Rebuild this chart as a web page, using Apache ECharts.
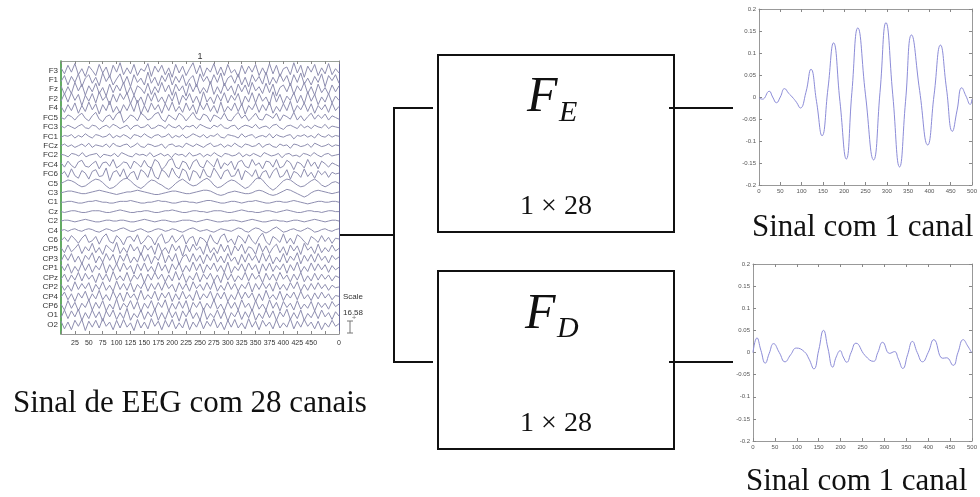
<!DOCTYPE html>
<html>
<head>
<meta charset="utf-8">
<script src="https://cdn.jsdelivr.net/npm/echarts@6/dist/echarts.min.js"></script>
<style>
  html, body { margin: 0; padding: 0; background: #fff; }
  #chart { width: 980px; height: 497px; }
</style>
</head>
<body>
<div id="chart"></div>
<script>
// ---- EEG montage (28 channels, top to bottom) ----
const channelNames = ['F3','F1','Fz','F2','F4','FC5','FC3','FC1','FCz','FC2','FC4','FC6','C5','C3','C1','Cz','C2','C4','C6','CP5','CP3','CP1','CPz','CP2','CP4','CP6','O1','O2'];
const channelStep = 11;   // µV between neighbouring channel baselines
const timeTicks = [0,25,50,75,100,125,150,175,200,225,250,275,300,325,350,375,400,425,450,475,500];
const timeTickLabels = ['','25','50','75','100','125','150','175','200','225','250','275','300','325','350','375','400','425','450','','0'];

// EEG samples per channel, µV
const eegF3  = [3,-4,6,-2,8,-5,2,-7,5,0,-6,7,-3,4,-8,6,-2,9,-5,3,-4,7,-6,2,-1,8,-7,5,-2,6,-5,3,-8,7,-3,5,-6,2,9,-4,6,-7,3,-2,8,-5,4,-6,7,-3,1,-8,6,-4,5,-2,7,-6,3,-5,8,-4,6,-7,2,4,-5,9,-3,6,-8,5,-2,7,-6,3,-4,8,-5,2,-3];
const eegF1  = [-2,5,-6,4,-3,7,-8,2,6,-4,3,-7,8,-2,5,-6,1,7,-5,4,-8,6,-3,2,-6,9,-4,3,-7,5,-2,8,-6,4,-3,6,-7,1,5,-8,7,-2,4,-5,6,-3,8,-7,2,5,-4,7,-6,3,-8,6,-2,4,-5,9,-6,3,-4,7,-2,5,-7,6,-3,8,-5,2,-6,4,-3,7,-8,5,-1,6,-4];
const eegFz  = [4,-6,3,-5,8,-2,6,-7,4,-3,7,-5,2,-8,6,-4,5,-2,8,-6,3,-7,4,1,-5,7,-6,3,-4,8,-3,5,-7,6,-2,4,-8,7,-3,6,-5,2,-4,9,-6,3,-5,7,-2,4,-7,6,-3,5,-6,8,-2,3,-5,7,-4,6,-8,2,5,-3,7,-6,4,-2,8,-5,3,-7,6,-4,2,-6,5,-3,4];
const eegF2  = [-3,6,-4,7,-2,5,-8,4,-3,6,-5,8,-2,3,-7,5,-4,6,-1,7,-6,4,-5,2,-8,6,-3,7,-4,2,-6,5,-3,8,-7,4,-2,6,-5,3,-7,8,-4,2,-6,5,-3,7,-5,4,-2,6,-8,3,-4,7,-5,6,-3,2,-7,8,-4,5,-6,3,-2,7,-5,4,-6,8,-3,5,-7,2,-4,6,-5,3,-2];
const eegF4  = [2,-5,4,-3,6,-6,3,-4,7,-2,5,-7,4,-3,8,-5,2,-6,4,-3,6,-4,9,-7,3,-5,6,-2,4,-6,5,-3,7,-4,2,-5,6,-3,4,-7,5,-2,6,-4,3,-6,7,-5,2,-3,6,-4,5,-7,3,-2,6,-5,4,-3,7,-6,2,-4,5,-3,8,-5,3,-2,6,-4,5,-6,3,-2,4,-5,6,-3,2];
const eegFC5 = [0,-2,3,1,-3,2,5,-1,-4,2,6,-2,-5,1,3,-3,4,7,-6,-2,3,1,-4,5,2,-3,-1,4,6,-2,-5,3,0,-3,5,2,-4,1,6,-1,-3,4,2,-5,3,1,-2,5,-3,-4,2,6,-1,3,-4,0,5,-2,-3,4,2,-1,5,-4,3,1,-2,6,-3,2,-4,1,5,-2,3,-1,4,-3,2,0,-2];
const eegFC3 = [1,-1,2,0,-2,1,3,-1,-2,2,1,-3,0,2,-1,3,1,-2,0,2,-3,1,2,-1,0,3,-2,-1,2,1,-2,3,0,-1,2,-3,1,0,2,-2,3,1,-1,-2,2,0,3,-1,-2,1,2,-3,0,2,1,-1,3,-2,0,1,-2,2,3,-1,-3,1,2,0,-2,3,-1,1,-2,2,0,-1,3,-2,1,0,-1];
const eegFC1 = [-1,1,0,2,-2,1,-1,3,0,-2,2,1,-1,0,3,-2,1,-1,2,0,-3,2,1,-1,3,0,-2,1,2,-1,0,3,-2,1,-1,2,-2,0,3,1,-1,2,-2,1,0,3,-1,-2,2,1,0,-2,3,-1,1,2,-2,0,1,-1,3,-2,2,0,-1,1,2,-3,1,0,2,-1,1,-2,3,0,-1,2,-1,1,0];
const eegFCz = [0,2,-1,1,-2,0,2,-1,3,-2,1,0,-1,2,-2,3,0,-1,1,2,-2,0,3,-1,-2,2,1,-1,0,2,-3,1,2,-1,0,-2,3,1,-1,2,0,-2,1,3,-1,0,2,-2,1,-1,3,0,-2,2,1,-1,0,3,-2,1,2,-1,-2,2,0,1,-3,2,1,-1,0,2,-2,3,1,-1,0,2,-1,1,0];
const eegFC2 = [1,0,-2,2,1,-1,3,-2,0,1,2,-3,1,0,-1,2,-2,3,1,-1,-2,2,0,1,-1,3,-2,0,2,-1,1,-3,2,0,1,-2,3,-1,0,2,-2,1,-1,3,0,-2,2,1,-1,0,3,-2,1,-1,2,0,-2,3,1,-1,0,2,-3,1,2,-1,0,-2,2,1,-1,3,0,-2,1,2,-1,0,1];
const eegFC4 = [2,-3,4,-1,-4,3,5,-2,-3,1,4,-5,2,3,-2,6,-4,-1,3,2,-5,4,1,-3,5,-2,-4,6,3,-6,-2,5,7,-3,-5,4,2,-6,3,6,-2,-4,5,1,-3,7,-5,2,-1,4,-6,3,5,-2,-4,6,-1,2,-5,4,3,-3,6,-4,-2,5,2,-6,3,1,-4,6,-2,3,-5,4,1,-3,2,0,-2];
const eegFC6 = [-1,3,-4,6,-2,-5,4,1,-6,3,5,-3,-2,7,-8,2,4,-3,6,-5,1,3,-7,5,2,-4,8,-3,-6,5,2,-4,7,-1,-5,6,3,-8,4,2,-5,6,-2,-4,7,1,-6,3,5,-3,-2,6,-7,4,1,-3,5,-6,2,4,-5,3,7,-4,-2,5,-6,3,1,-4,6,-3,2,-5,4,-1,3,-4,2,0,1];
const eegC5  = [0,2,4,3,1,-2,-4,-3,0,3,5,4,1,-3,-6,-5,-2,2,5,6,3,-1,-4,-6,-3,1,4,3,0,-2,-5,-7,-4,0,3,5,2,-1,-3,-2,1,4,6,3,-2,-5,-4,-1,2,4,3,0,-3,-6,-4,0,5,7,4,-1,-5,-8,-5,-1,3,5,4,1,-2,-4,-3,0,3,5,2,-2,-4,-2,1,2,0];
const eegC3  = [0,1,2,2,1,0,-1,-1,0,1,2,3,2,1,0,-1,-2,-1,0,1,1,2,3,2,1,0,-1,-2,-2,-1,0,1,2,2,1,0,-1,-1,0,1,2,3,3,2,0,-2,-3,-2,0,1,2,1,0,-1,-1,0,2,3,2,0,-2,-3,-2,0,2,4,3,1,-1,-3,-5,-3,0,2,3,2,1,0,-1,0,1];
const eegC1  = [0,0,1,1,0,-1,-1,0,1,1,2,1,0,0,-1,-1,0,1,1,1,2,1,0,-1,-1,0,0,1,2,1,1,0,-1,-1,0,1,1,0,0,-1,0,1,2,2,1,0,-1,-1,0,1,1,0,-1,0,1,1,2,1,0,-1,-1,0,1,1,0,0,1,2,1,0,-1,-2,-1,0,1,1,0,0,1,1,0];
const eegCz  = [0,-1,0,1,1,0,-1,-1,0,1,1,1,0,-1,-1,0,1,2,1,0,-1,-1,0,0,1,1,0,-1,-1,0,1,1,2,1,0,-1,-1,0,1,1,0,0,-1,0,1,1,1,0,-1,-1,0,1,2,1,0,0,-1,-1,0,1,1,0,-1,0,1,2,1,0,-1,-1,0,1,1,0,0,-1,0,1,1,0,0];
const eegC2  = [0,1,1,0,-1,0,1,2,1,0,-1,-1,0,1,1,0,0,1,1,0,-1,-1,0,1,2,1,0,-1,0,1,1,0,-1,-1,0,1,1,1,0,-1,0,1,2,1,0,-1,-1,0,0,1,1,0,-1,0,1,2,1,0,-1,-1,0,1,1,0,0,-1,0,1,1,0,-1,0,1,2,1,0,-1,0,1,1,0];
const eegC4  = [0,1,-1,1,2,0,-1,1,2,1,-1,-2,0,2,1,-1,0,2,3,1,-1,-1,1,2,0,-2,-1,1,2,1,-1,0,2,1,-1,-2,0,2,3,1,-1,0,1,-1,-2,0,2,1,0,-1,1,3,2,-1,-2,1,3,2,-1,-3,-1,2,4,1,-2,-1,1,2,0,-1,1,3,1,-2,-1,1,2,0,-1,1,2];
const eegC6  = [-1,3,-2,5,1,-4,2,6,-3,-1,4,-5,3,7,-2,-4,5,1,-6,3,4,-2,6,-5,-1,5,2,-6,3,7,-4,-2,5,-3,1,6,-5,2,4,-7,3,1,-4,6,-2,-5,4,7,-3,1,-6,5,2,-4,6,-1,-5,3,8,-2,-6,4,1,-3,7,-4,2,-5,6,3,-2,-6,4,1,-3,5,-2,3,-4,2,1];
const eegCP5 = [2,-4,5,-3,1,6,-5,3,-2,7,-4,2,-6,5,1,-3,8,-5,2,-4,6,-2,3,-7,5,-1,4,-6,7,-3,2,-5,6,-2,4,-8,5,-3,6,-1,3,-6,7,-4,2,-5,6,-3,5,-7,4,-2,6,-5,3,1,-6,7,-3,4,-5,2,6,-4,3,-7,5,-2,4,-6,7,-1,3,-5,6,-4,2,-3,5,-2,1];
const eegCP3 = [-3,5,-2,6,-4,3,-6,4,-1,7,-5,3,-4,6,-2,5,-7,4,-3,6,-5,2,-4,7,-3,5,-6,3,-2,8,-5,4,-3,6,-7,2,5,-4,6,-3,4,-6,5,-2,7,-4,3,-5,6,-3,2,-7,5,-4,6,-2,4,-5,7,-3,5,-6,2,-4,6,-5,3,-2,7,-6,4,-3,5,-4,6,-2,3,-5,4,-1,2];
const eegCP1 = [4,-3,5,-6,2,-4,6,-3,5,-5,3,-2,7,-6,4,-3,5,-4,6,-2,3,-7,5,-3,6,-4,2,-5,7,-3,4,-6,5,-2,6,-5,3,-4,7,-3,5,-6,4,-2,6,-4,3,-5,7,-6,2,-3,5,-4,6,-2,4,-7,5,-3,6,-4,3,-2,5,-6,4,-3,7,-5,2,-4,6,-3,5,-2,4,-5,3,-2,1];
const eegCPz = [-2,4,-5,3,-3,6,-4,5,-2,3,-6,5,-3,4,-5,7,-3,2,-4,6,-5,3,-2,5,-6,4,-3,6,-2,4,-5,3,-4,7,-3,5,-6,2,-3,6,-5,4,-2,5,-4,3,-6,6,-3,4,-5,2,-3,6,-4,5,-2,3,-6,5,-3,4,-4,6,-2,3,-5,4,-3,6,-5,2,-4,5,-3,4,-2,3,-4,2,0];
const eegCP2 = [3,-4,2,-5,6,-3,4,-2,5,-6,3,-3,6,-4,2,-5,7,-3,4,-4,5,-6,3,-2,6,-5,4,-3,5,-4,6,-2,3,-6,5,-3,4,-5,6,-2,3,-4,5,-3,7,-5,2,-4,6,-3,4,-5,3,-2,6,-6,4,-3,5,-2,4,-5,6,-3,3,-4,5,-2,6,-5,3,-4,4,-3,5,-2,3,-4,2,-1,0];
const eegCP4 = [-1,5,-4,3,-6,4,-2,6,-5,3,-3,7,-4,2,-5,6,-3,4,-6,5,-2,3,-5,7,-4,2,-3,6,-5,4,-2,5,-6,3,-4,6,-3,2,-5,7,-4,3,-2,6,-5,4,-3,5,-6,2,-4,6,-3,5,-2,4,-6,3,-5,7,-3,2,-4,6,-5,3,-2,5,-4,6,-3,2,-5,4,-3,5,-2,3,-4,1,0];
const eegCP6 = [2,-5,6,-3,4,-6,3,-2,7,-5,4,-3,6,-6,2,-4,8,-5,3,-2,6,-4,5,-7,3,-3,6,-5,4,-2,7,-6,3,-4,5,-3,6,-7,4,-2,5,-5,3,-3,7,-4,2,-6,5,-3,4,-5,7,-2,3,-6,6,-4,2,-5,7,-3,4,-6,5,-2,3,-5,6,-4,2,-3,5,-6,4,-2,3,-4,5,-1,2];
const eegO1  = [-3,6,-4,5,-2,7,-6,3,-4,6,-3,4,-7,5,-2,6,-5,3,-4,8,-6,2,-3,6,-5,4,-2,7,-6,3,-5,6,-3,4,-7,5,-2,6,-4,3,-6,8,-5,2,-3,6,-4,5,-7,3,-2,6,-5,4,-3,7,-6,2,-4,6,-3,5,-6,4,-2,7,-5,3,-4,6,-6,2,-3,5,-4,6,-2,3,-5,4,-1];
const eegO2  = [4,-5,3,-6,5,-2,6,-7,4,-3,5,-4,7,-2,3,-6,5,-4,6,-3,2,-7,6,-4,3,-5,7,-2,4,-6,5,-3,6,-5,2,-4,7,-6,3,-3,6,-5,4,-2,7,-4,3,-6,5,-3,6,-4,2,-5,7,-3,4,-6,5,-2,3,-5,6,-4,2,-3,7,-5,4,-3,6,-2,3,-5,4,-6,2,-3,5,-2,1];

const eegChannels = [eegF3, eegF1, eegFz, eegF2, eegF4, eegFC5, eegFC3, eegFC1, eegFCz, eegFC2, eegFC4, eegFC6,
  eegC5, eegC3, eegC1, eegCz, eegC2, eegC4, eegC6, eegCP5, eegCP3, eegCP1, eegCPz, eegCP2, eegCP4, eegCP6, eegO1, eegO2];

// ---- Filtered single-channel outputs ----
const feSampleX = [0,8,24,32,41,50,60,70,78,88,97,110,122,135,148,162,175,190,205,218,232,250,269,284,298,314,330,344,358,377,396,411,426,440,454,465,476,486,496,500];
const feSignal  = [-0.002,-0.005,0.013,0,-0.013,0,0.019,0.008,0,-0.012,-0.025,0.01,0.063,-0.01,-0.088,0.02,0.123,-0.01,-0.141,0.01,0.157,0.005,-0.143,0.01,0.169,0.005,-0.159,-0.01,0.141,0.015,-0.109,0.005,0.118,0.02,-0.078,-0.03,0.021,0.002,-0.017,-0.005];
const fdSampleX = [0,9,18,28,37,47,60,73,86,99,117,128,139,150,161,171,182,190,199,206,214,224,235,256,275,285,296,312,323,332,342,353,364,375,387,400,413,433,442,457,468,480,490,499];
const fdSignal  = [0,0.033,0.005,-0.024,-0.002,0.02,0,-0.021,-0.005,0.01,0.002,-0.015,-0.037,0.005,0.05,0.01,-0.033,-0.01,0.004,-0.01,-0.022,0,0.021,-0.007,-0.02,0,0.023,-0.002,0.002,-0.015,-0.036,-0.005,0.025,0,-0.021,0,0.029,-0.013,-0.012,-0.029,0,0.029,0.015,0];

// ---- Text ----
const eegTitle = '1';
const eegCaption = 'Sinal de EEG com 28 canais';
const outCaption = 'Sinal com 1 canal';
const filterSize = '1 × 28';
const scaleLabel = 'Scale';
const scaleValue = '16.58';

const chart = echarts.init(document.getElementById('chart'), null, { renderer: 'canvas' });

const serif = '"Liberation Serif", "Times New Roman", serif';
const sans = '"Liberation Sans", Arial, sans-serif';
const eegColor = '#8e8eb0';
const sigColor = '#8c8cd8';

// EEG channel traces stacked by baseline
const eegSeries = eegChannels.map((vals, k) => ({
  type: 'line',
  xAxisIndex: 0, yAxisIndex: 0,
  showSymbol: false, silent: true,
  lineStyle: { color: eegColor, width: 1 },
  data: vals.map((v, i) => [i * 500 / (vals.length - 1), (channelNames.length - k) + v / channelStep])
}));

// small MATLAB-style boxed axes used by both output plots
function signalAxes(gridIndex) {
  const tickStyle = { inside: true, length: 3, lineStyle: { color: '#888', width: 1 } };
  const lineStyle = { show: true, onZero: false, lineStyle: { color: '#999', width: 1 } };
  return {
    x: [
      { gridIndex, type: 'value', min: 0, max: 500, interval: 50, position: 'bottom',
        axisLine: lineStyle, axisTick: tickStyle, splitLine: { show: false },
        axisLabel: { fontSize: 6, color: '#555', margin: 3, fontFamily: sans } },
      { gridIndex, type: 'value', min: 0, max: 500, interval: 50, position: 'top',
        axisLine: lineStyle, axisTick: tickStyle, splitLine: { show: false }, axisLabel: { show: false } }
    ],
    y: [
      { gridIndex, type: 'value', min: -0.2, max: 0.2, interval: 0.05, position: 'left',
        axisLine: lineStyle, axisTick: tickStyle, splitLine: { show: false },
        axisLabel: { fontSize: 6, color: '#555', margin: 3, fontFamily: sans,
          formatter: v => String(Math.round(v * 100) / 100) } },
      { gridIndex, type: 'value', min: -0.2, max: 0.2, interval: 0.05, position: 'right',
        axisLine: lineStyle, axisTick: tickStyle, splitLine: { show: false }, axisLabel: { show: false } }
    ]
  };
}
const axE = signalAxes(1);
const axD = signalAxes(2);

const blk = { stroke: '#111', lineWidth: 2 };

const option = {
  backgroundColor: '#fff',
  animation: false,
  grid: [
    { left: 61, top: 61, width: 278, height: 273, show: false },
    { left: 759, top: 9, width: 219, height: 176, show: false },
    { left: 753, top: 264, width: 223, height: 177, show: false }
  ],
  xAxis: [
    { gridIndex: 0, type: 'value', min: 0, max: 500, interval: 25, position: 'bottom',
      axisLine: { show: true, onZero: false, lineStyle: { color: '#9a9a9a', width: 1 } },
      axisTick: { show: true, inside: true, length: 3, lineStyle: { color: '#888' } },
      splitLine: { show: false },
      axisLabel: { fontSize: 7, color: '#333', margin: 6, fontFamily: sans,
        formatter: v => timeTickLabels[timeTicks.indexOf(Math.round(v))] || '' } },
    { gridIndex: 0, type: 'value', min: 0, max: 500, interval: 25, position: 'top',
      axisLine: { show: true, onZero: false, lineStyle: { color: '#9aa29a', width: 1 } },
      axisTick: { show: true, inside: true, length: 3, lineStyle: { color: '#888' } },
      splitLine: { show: false }, axisLabel: { show: false } },
    ...axE.x, ...axD.x
  ],
  yAxis: [
    { gridIndex: 0, type: 'value', min: 0, max: 29, interval: 1, position: 'left',
      axisLine: { show: true, onZero: false, lineStyle: { color: '#2f8f2f', width: 1.5 } },
      axisTick: { show: false }, splitLine: { show: false },
      axisLabel: { fontSize: 8, color: '#333', margin: 3, fontFamily: sans,
        formatter: v => (v >= 1 && v <= channelNames.length) ? channelNames[channelNames.length - v] : '' } },
    { gridIndex: 0, type: 'value', min: 0, max: 29, interval: 1, position: 'right',
      axisLine: { show: true, onZero: false, lineStyle: { color: '#6a6a9a', width: 1 } },
      axisTick: { show: false }, splitLine: { show: false }, axisLabel: { show: false } },
    ...axE.y, ...axD.y
  ],
  series: [
    ...eegSeries,
    { type: 'line', xAxisIndex: 2, yAxisIndex: 2, showSymbol: false, silent: true,
      smooth: 0.5,
      lineStyle: { color: sigColor, width: 1 },
      data: feSampleX.map((x, i) => [x, feSignal[i]]) },
    { type: 'line', xAxisIndex: 4, yAxisIndex: 4, showSymbol: false, silent: true,
      smooth: 0.5,
      lineStyle: { color: sigColor, width: 1 },
      data: fdSampleX.map((x, i) => [x, fdSignal[i]]) }
  ],
  graphic: [
    // EEG panel texts
    { type: 'text', style: { text: eegTitle, x: 200, y: 57, align: 'center', verticalAlign: 'middle', font: '9px ' + sans, fill: '#333' } },
    { type: 'text', style: { text: scaleLabel, x: 343, y: 297, align: 'left', verticalAlign: 'middle', font: '8px ' + sans, fill: '#333' } },
    { type: 'text', style: { text: scaleValue, x: 343, y: 313, align: 'left', verticalAlign: 'middle', font: '8px ' + sans, fill: '#333' } },
    { type: 'line', shape: { x1: 350, y1: 321, x2: 350, y2: 333 }, style: { stroke: '#777', lineWidth: 1 } },
    { type: 'line', shape: { x1: 347, y1: 321, x2: 353, y2: 321 }, style: { stroke: '#777', lineWidth: 1 } },
    { type: 'line', shape: { x1: 347, y1: 333, x2: 353, y2: 333 }, style: { stroke: '#777', lineWidth: 1 } },
    { type: 'text', style: { text: '+', x: 354, y: 318, align: 'center', verticalAlign: 'middle', font: '8px ' + sans, fill: '#777' } },
    { type: 'text', style: { text: eegCaption, x: 13, y: 404, align: 'left', verticalAlign: 'middle', font: '31px ' + serif, fill: '#111' } },

    // connectors
    { type: 'polyline', shape: { points: [[339, 235], [394, 235]] }, style: blk },
    { type: 'polyline', shape: { points: [[433, 108], [394, 108], [394, 362], [433, 362]] }, style: { stroke: '#111', lineWidth: 2, fill: null } },
    { type: 'line', shape: { x1: 669, y1: 108, x2: 733, y2: 108 }, style: blk },
    { type: 'line', shape: { x1: 669, y1: 362, x2: 733, y2: 362 }, style: blk },

    // filter boxes
    { type: 'rect', shape: { x: 438, y: 55, width: 236, height: 177 }, style: { fill: null, stroke: '#111', lineWidth: 2 } },
    { type: 'rect', shape: { x: 438, y: 271, width: 236, height: 178 }, style: { fill: null, stroke: '#111', lineWidth: 2 } },
    { type: 'text', style: { text: 'F', x: 527, y: 98, align: 'left', verticalAlign: 'middle', font: 'italic 50px ' + serif, fill: '#111' } },
    { type: 'text', style: { text: 'E', x: 559, y: 113, align: 'left', verticalAlign: 'middle', font: 'italic 30px ' + serif, fill: '#111' } },
    { type: 'text', style: { text: filterSize, x: 556, y: 207, align: 'center', verticalAlign: 'middle', font: '28px ' + serif, fill: '#111' } },
    { type: 'text', style: { text: 'F', x: 525, y: 315, align: 'left', verticalAlign: 'middle', font: 'italic 50px ' + serif, fill: '#111' } },
    { type: 'text', style: { text: 'D', x: 557, y: 329, align: 'left', verticalAlign: 'middle', font: 'italic 30px ' + serif, fill: '#111' } },
    { type: 'text', style: { text: filterSize, x: 556, y: 424, align: 'center', verticalAlign: 'middle', font: '28px ' + serif, fill: '#111' } },

    // output captions
    { type: 'text', style: { text: outCaption, x: 752, y: 228, align: 'left', verticalAlign: 'middle', font: '31px ' + serif, fill: '#111' } },
    { type: 'text', style: { text: outCaption, x: 746, y: 482, align: 'left', verticalAlign: 'middle', font: '31px ' + serif, fill: '#111' } }
  ]
};

chart.setOption(option);
</script>
</body>
</html>
